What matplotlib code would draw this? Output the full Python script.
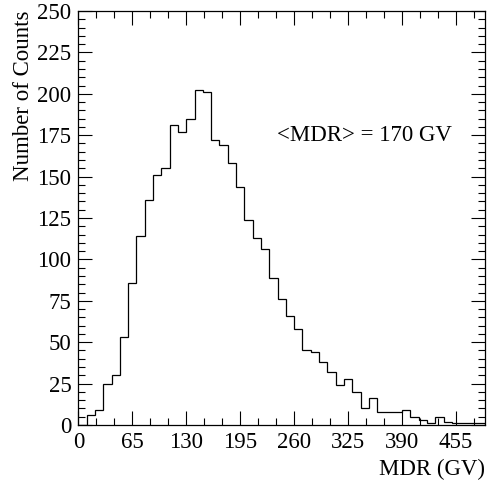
import matplotlib
matplotlib.use("Agg")
import matplotlib.pyplot as plt
from matplotlib.ticker import MultipleLocator
import numpy as np

plt.rcParams['font.family'] = ['Liberation Serif', 'DejaVu Serif']

# histogram of MDR, 10 GV bins from 0 to 490
bin_width = 10
counts = [0, 6, 9, 25, 30, 53, 86, 114, 136, 151,
          155, 181, 177, 185, 202, 201, 172, 169, 158, 144,
          124, 113, 106, 89, 76, 66, 58, 45, 44, 38,
          32, 24, 28, 20, 10, 16, 8, 8, 8, 9,
          5, 3, 1, 5, 2, 1, 1, 1, 1]
edges = np.arange(len(counts) + 1) * bin_width
x_major = 65
y_major = 25
mean_label = "<MDR> = 170 GV"

fig = plt.figure(figsize=(4.91, 4.82), dpi=100)
ax = fig.add_axes([0.1595, 0.1183, 0.8283, 0.8589])

ax.stairs(counts, edges, color="black", linewidth=0.9)

ax.set_xlim(0, edges[-1])
ax.set_ylim(0, 250)
ax.xaxis.set_major_locator(MultipleLocator(x_major))
ax.xaxis.set_minor_locator(MultipleLocator(x_major / 3))
ax.yaxis.set_major_locator(MultipleLocator(y_major))
ax.yaxis.set_minor_locator(MultipleLocator(y_major / 5))

fs = 16.5
ax.tick_params(which="both", direction="in", top=True, right=True,
               labelsize=fs, width=0.8)
ax.tick_params(which="major", length=10)
ax.tick_params(which="minor", length=5)
ax.tick_params(axis="x", pad=5)
ax.tick_params(axis="y", pad=5)
for s in ax.spines.values():
    s.set_linewidth(0.9)

ax.set_xlabel("MDR (GV)", fontsize=fs, loc="right", labelpad=4)
ax.set_ylabel("Number of Counts", fontsize=fs, loc="top", labelpad=2)

ax.text(239, 175, mean_label, fontsize=fs, va="center", ha="left")

fig.savefig("out.png", dpi=100)
